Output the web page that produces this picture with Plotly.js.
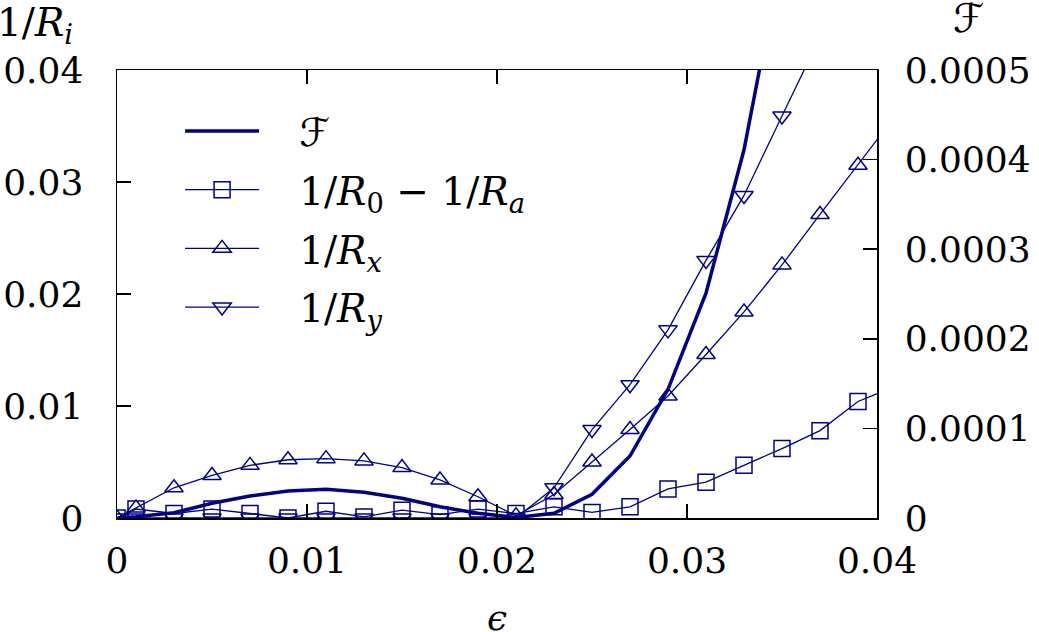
<!DOCTYPE html>
<html>
<head>
<meta charset="utf-8">
<script src="https://cdn.plot.ly/plotly-3.0.1.min.js"></script>
<style>
  html, body { margin: 0; padding: 0; background: #fff; }
  #chart { width: 1039px; height: 632px; }
</style>
</head>
<body>
<div id="chart"></div>
<script>
// strain values (markers every 0.002, plus the first step)
const eps = [0, 0.001, 0.003, 0.005, 0.007, 0.009, 0.011, 0.013, 0.015, 0.017, 0.019,
             0.021, 0.023, 0.025, 0.027, 0.029, 0.031, 0.033, 0.035, 0.037, 0.039, 0.041];

// free energy, right axis
const freeF = [0, 0.0000015, 0.0000059, 0.0000164, 0.0000246, 0.0000301, 0.000032, 0.0000287,
               0.000022, 0.0000126, 0.0000052, 0.0000005, 0.0000052, 0.0000264, 0.0000692,
               0.0001436, 0.000251, 0.000411, 0.00063, 0.0009, 0.0012, 0.0016];

// curvatures, left axis
const invR0a = [0, 0.0008, 0.0004, 0.0008, 0.0004, 0.0000, 0.0006, 0.0001, 0.0007, 0.0003, 0.0008,
                0.0004, 0.0010, 0.0005, 0.0010, 0.0026, 0.0032, 0.0047, 0.0062, 0.0078, 0.0104, 0.0118];
const invRx = [0, 0.0009, 0.0027, 0.0038, 0.0047, 0.0052, 0.0053, 0.0051, 0.0045, 0.0034, 0.0019,
               0.0002, 0.0021, 0.0050, 0.0079, 0.0109, 0.0146, 0.0184, 0.0226, 0.0271, 0.0315, 0.0360];
const invRy = [0, 0, 0, 0, 0, 0, 0, 0, 0, 0, 0,
               0, 0.0027, 0.0079, 0.0119, 0.0168, 0.0230, 0.0288, 0.0359, 0.0430, 0.0500, 0.0570];

const NAVY = '#00008b';
const FONT = 'DejaVu Serif';
const SZ = 36;
const GAP = '\u2002\u2009\u2009';  // room between legend sample and label
const CALF = '<span style="font-family:DejaVu Sans">ℱ</span>';

const thin = (y, name, symbol, grp) => ({
  x: eps, y: y, name: name, type: 'scatter', mode: 'lines+markers', legendgroup: grp,
  line: { color: NAVY, width: 1.3 },
  marker: { symbol: symbol, size: 16, color: NAVY, line: { color: NAVY, width: 1.5 } }
});

const data = [
  { x: eps, y: freeF, name: GAP + '<i>' + CALF + '</i><sub>\u2009</sub>', type: 'scatter',
    mode: 'lines', yaxis: 'y2', legendgroup: 'f', line: { color: NAVY, width: 3.5 } },
  thin(invR0a, GAP + '1/<i>R</i><sub>0</sub> − 1/<i>R</i><sub><i>a</i></sub>', 'square-open', 'r0'),
  thin(invRx, GAP + '1/<i>R</i><sub><i>x</i></sub>', 'triangle-up-open', 'rx'),
  thin(invRy, GAP + '1/<i>R</i><sub><i>y</i></sub>', 'triangle-down-open', 'ry')
];

const axisBase = {
  showgrid: false, zeroline: false, showline: true, linecolor: '#000', linewidth: 1.5,
  ticks: 'inside', ticklen: 14, tickwidth: 1.5, tickcolor: '#000',
  tickfont: { family: FONT, size: SZ, color: '#000' }
};

const layout = {
  width: 1039, height: 632,
  margin: { l: 117, r: 162, t: 70, b: 114 },
  paper_bgcolor: '#fff', plot_bgcolor: '#fff',
  font: { family: FONT, size: SZ, color: '#000' },
  xaxis: { ...axisBase, range: [0, 0.04], dtick: 0.01, tickformat: '.2~f', mirror: 'ticks',
           ticklabelstandoff: 10 },
  yaxis: { ...axisBase, range: [0, 0.04], dtick: 0.01, tickformat: '.2~f', ticklabelstandoff: 25 },
  yaxis2: { ...axisBase, range: [0, 0.0005], dtick: 0.0001, tickformat: '.4~f',
            overlaying: 'y', side: 'right', ticklabelstandoff: 19 },
  showlegend: true,
  legend: {
    x: 0.083, y: 0.935, xanchor: 'left', yanchor: 'top',
    bgcolor: 'rgba(0,0,0,0)', borderwidth: 0, itemwidth: 74,
    traceorder: 'grouped', tracegroupgap: 5,
    font: { family: FONT, size: 39, color: '#000' }
  },
  annotations: [
    { text: '1/<i>R</i><sub><i>i</i></sub>', xref: 'paper', yref: 'paper', x: -0.16, y: 1.04,
      xanchor: 'left', yanchor: 'bottom', showarrow: false, font: { family: FONT, size: 39 } },
    { text: '<i>' + CALF + '</i>', xref: 'paper', yref: 'paper', x: 1.12, y: 1.06,
      xanchor: 'center', yanchor: 'bottom', showarrow: false, font: { family: FONT, size: 40 } },
    { text: '<i>ϵ</i>', xref: 'paper', yref: 'paper', x: 0.5, y: -0.222,
      xanchor: 'center', yanchor: 'middle', showarrow: false, font: { family: FONT, size: SZ } }
  ]
};

Plotly.newPlot('chart', data, layout, { displayModeBar: false, staticPlot: true });
</script>
</body>
</html>
